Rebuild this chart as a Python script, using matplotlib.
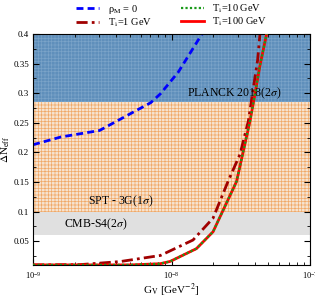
import numpy as np
import matplotlib
matplotlib.use("Agg")
import matplotlib.pyplot as plt

plt.rcParams['font.family'] = ['Liberation Serif', 'DejaVu Serif']
plt.rcParams['mathtext.fontset'] = 'stix'
plt.rcParams['hatch.linewidth'] = 0.5

# curves (G_V in GeV^-2, Delta N_eff)
gv_rho0 = [1e-9, 10**-8.8, 10**-8.52, 10**-8.3, 10**-8.15, 10**-8.08, 10**-7.95, 10**-7.78]
dn_rho0 = [0.213, 0.226, 0.237, 0.265, 0.284, 0.299, 0.336, 0.40]

gv_t1 = [1e-9, 10**-8.66, 10**-8.37, 10**-8.08, 10**-7.845, 10**-7.70, 10**-7.59,
         10**-7.505, 10**-7.445, 10**-7.397, 10**-7.378, 10**-7.361]
dn_t1 = [0.010, 0.0105, 0.0157, 0.026, 0.052, 0.089, 0.152, 0.197, 0.253, 0.327, 0.356, 0.40]

gv_t10 = [1e-9, 10**-8.3, 10**-8.083, 10**-8.01, 10**-7.82, 10**-7.70, 10**-7.53,
          10**-7.433, 10**-7.397, 10**-7.361, 10**-7.313]
dn_t10 = [0.010, 0.010, 0.012, 0.0159, 0.0375, 0.066, 0.151, 0.253, 0.299, 0.347, 0.40]

gv_t100 = gv_t10
dn_t100 = dn_t10

planck = 0.285
spt = 0.10
cmbs4 = 0.06

fig, ax = plt.subplots(figsize=(3.15, 2.98), dpi=100)
fig.subplots_adjust(left=0.105, right=0.984, top=0.886, bottom=0.111)

ax.fill_between([1e-9, 1e-7], planck, 0.4, facecolor='#5f8fbb', edgecolor='#7aa3c8',
                hatch='+++++', linewidth=0, zorder=0)
ax.fill_between([1e-9, 1e-7], spt, planck, facecolor='#f7e3cf', edgecolor='#f0a968',
                hatch='+++++', linewidth=0, zorder=0)
ax.fill_between([1e-9, 1e-7], cmbs4, spt, facecolor='#e0e0e0', linewidth=0, zorder=0)

ax.plot(gv_rho0, dn_rho0, color='blue', ls=(0, (2.5, 1.5)), lw=2, label='ρ$_{\\rm M}$ = 0')
ax.plot(gv_t1, dn_t1, color='#a00000', ls=(0, (4, 1.5, 1, 1.5)), lw=2, label=r'T$_{\rm i}$=1 GeV')
ax.plot(gv_t100, dn_t100, color='red', ls='-', lw=2, label=r'T$_{\rm i}$=100 GeV', zorder=3)
ax.plot(gv_t10, dn_t10, color='#1a9a1a', ls=(0, (1, 1)), lw=1.6, label=r'T$_{\rm i}$=10 GeV', zorder=4)

ax.text(10**-7.89, 0.287, r'PLANCK 2018(2$\sigma$)', fontsize=8.5, va='bottom')
ax.text(10**-8.6, 0.104, r'SPT - 3G(1$\sigma$)', fontsize=8.5, va='bottom')
ax.text(10**-8.78, 0.066, r'CMB-S4(2$\sigma$)', fontsize=8.5, va='bottom')

ax.set_xscale('log')
ax.set_xlim(1e-9, 1e-7)
ax.set_ylim(0.01, 0.4)
ax.set_yticks([0.05, 0.1, 0.15, 0.2, 0.25, 0.3, 0.35, 0.4])
ax.set_yticklabels(['0.05', '0.1', '0.15', '0.2', '0.25', '0.3', '0.35', '0.4'])
ax.set_yticks(np.arange(0.025, 0.4, 0.025), minor=True)
ax.tick_params(which='both', direction='in', top=True, right=True, labelsize=6.5, pad=3)
ax.tick_params(axis='x', which='both', labelsize=6, pad=4)
ax.tick_params(which='major', length=4)
ax.tick_params(which='minor', length=2)
ax.set_xlabel(r'G$_{\rm V}$ [GeV$^{-2}$]', fontsize=8, labelpad=0)
ax.set_ylabel(r'$\Delta$N$_{\rm eff}$', fontsize=8, labelpad=1)

handles, labels = ax.get_legend_handles_labels()
order = [0, 1, 3, 2]
ax.legend([handles[i] for i in order], [labels[i] for i in order], ncol=2,
          loc='lower center', bbox_to_anchor=(0.5, 0.995), frameon=False, fontsize=7.5,
          handlelength=2.2, columnspacing=2.8, labelspacing=0.05, borderpad=0.1)

fig.savefig('out.png', dpi=100)
